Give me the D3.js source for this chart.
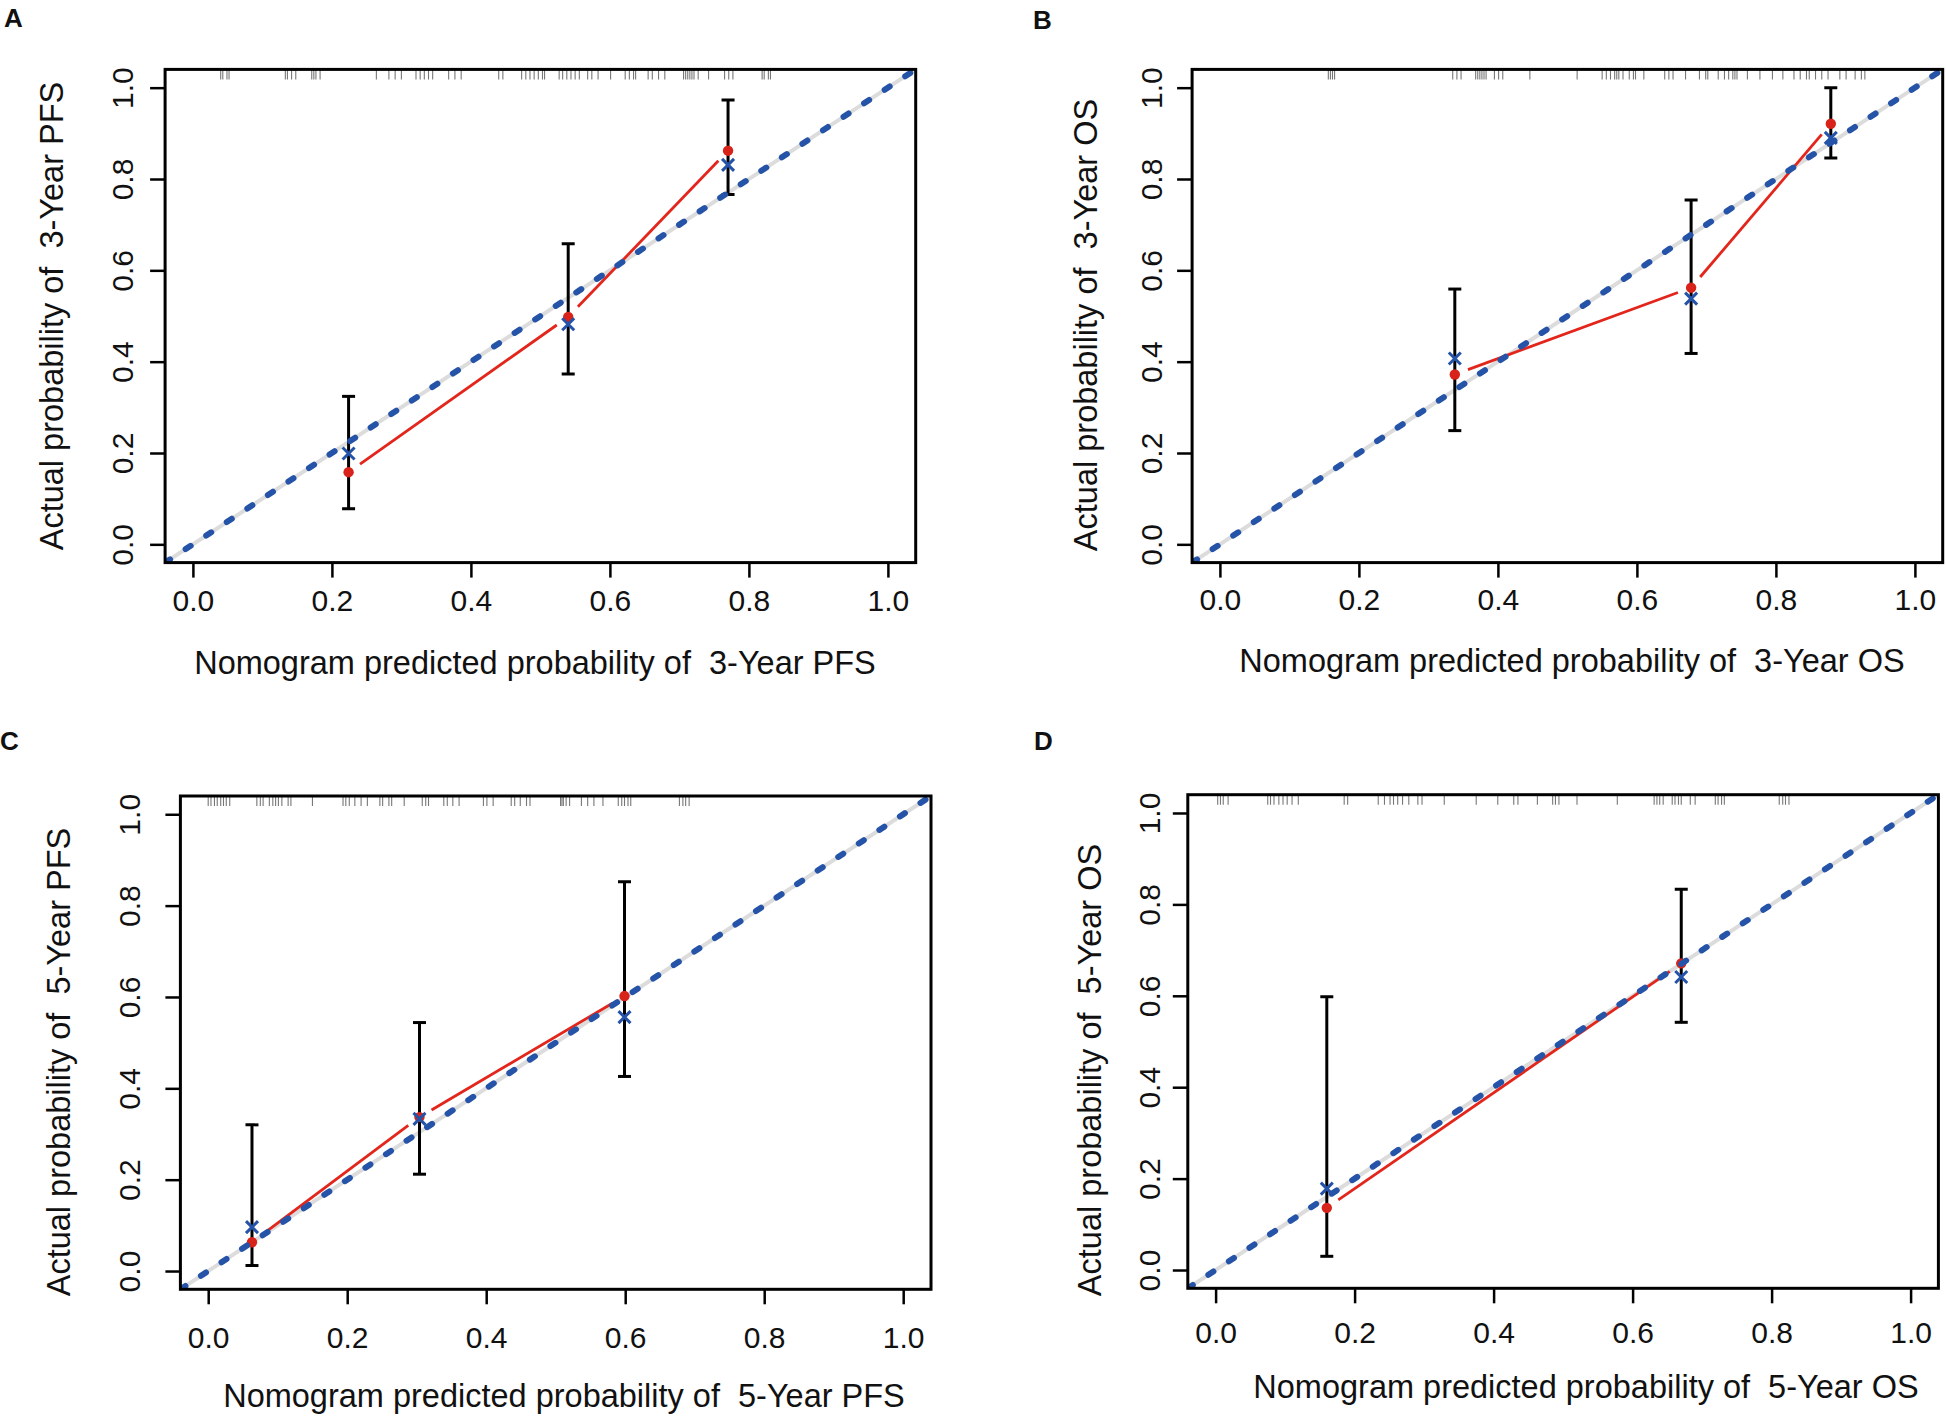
<!DOCTYPE html>
<html>
<head>
<meta charset="utf-8">
<script src="https://cdn.jsdelivr.net/npm/d3@7"></script>
<style>
  body { margin: 0; background: #fff; }
  svg text { font-family: Arial, "Liberation Sans", sans-serif; fill: #111; }
</style>
</head>
<body>
<svg id="chart" width="1946" height="1417"></svg>
<script>
// ---- data ----
const panelLetters = ["A", "B", "C", "D"];
const xTitles = ["Nomogram predicted probability of  3-Year PFS", "Nomogram predicted probability of  3-Year OS",
                 "Nomogram predicted probability of  5-Year PFS", "Nomogram predicted probability of  5-Year OS"];
const yTitles = ["Actual probability of  3-Year PFS", "Actual probability of  3-Year OS",
                 "Actual probability of  5-Year PFS", "Actual probability of  5-Year OS"];
const tickValues = [0, 0.2, 0.4, 0.6, 0.8, 1.0];

// A: 3-year PFS
const predA = [0.224, 0.540, 0.770];
const obsA  = [0.158, 0.498, 0.862];
const corrA = [0.199, 0.482, 0.831];
const lowA  = [0.078, 0.373, 0.766];
const highA = [0.324, 0.658, 0.973];
const rugA  = [0.040, 0.043, 0.049, 0.052, 0.133, 0.136, 0.142, 0.148, 0.171, 0.174, 0.177, 0.183,
               0.264, 0.282, 0.291, 0.300, 0.321, 0.327, 0.333, 0.339, 0.345, 0.368, 0.377, 0.386,
               0.440, 0.446, 0.473, 0.479, 0.485, 0.491, 0.497, 0.503, 0.506, 0.527, 0.532, 0.538,
               0.544, 0.550, 0.556, 0.568, 0.574, 0.583, 0.601, 0.622, 0.628, 0.634, 0.637, 0.655,
               0.661, 0.670, 0.679, 0.706, 0.709, 0.712, 0.715, 0.718, 0.721, 0.727, 0.742, 0.765,
               0.771, 0.777, 0.819, 0.822, 0.828, 0.831];

// B: 3-year OS
const predB = [0.338, 0.678, 0.879];
const obsB  = [0.372, 0.562, 0.921];
const corrB = [0.407, 0.538, 0.890];
const lowB  = [0.249, 0.418, 0.846];
const highB = [0.559, 0.754, 1.000];
const rugB  = [0.156, 0.159, 0.162, 0.165, 0.335, 0.341, 0.347, 0.368, 0.371, 0.374, 0.377, 0.380,
               0.383, 0.395, 0.401, 0.407, 0.446, 0.514, 0.550, 0.556, 0.562, 0.568, 0.571, 0.574,
               0.580, 0.589, 0.595, 0.598, 0.610, 0.640, 0.646, 0.652, 0.670, 0.690, 0.699, 0.702,
               0.717, 0.726, 0.732, 0.738, 0.741, 0.744, 0.759, 0.777, 0.795, 0.810, 0.826, 0.835,
               0.844, 0.848, 0.857, 0.866, 0.875, 0.892, 0.901, 0.914, 0.923, 0.928];

// C: 5-year PFS
const predC = [0.063, 0.304, 0.599];
const obsC  = [0.063, 0.337, 0.602];
const corrC = [0.096, 0.333, 0.556];
const lowC  = [0.012, 0.212, 0.426];
const highC = [0.320, 0.544, 0.852];
const rugC  = [0.000, 0.004, 0.009, 0.013, 0.018, 0.022, 0.026, 0.031, 0.070, 0.075, 0.079, 0.088,
               0.093, 0.097, 0.101, 0.106, 0.115, 0.119, 0.150, 0.194, 0.198, 0.203, 0.211, 0.220,
               0.229, 0.247, 0.251, 0.260, 0.264, 0.282, 0.308, 0.313, 0.317, 0.339, 0.344, 0.352,
               0.361, 0.396, 0.401, 0.410, 0.436, 0.441, 0.449, 0.458, 0.463, 0.507, 0.509, 0.511,
               0.515, 0.520, 0.537, 0.546, 0.555, 0.568, 0.590, 0.595, 0.599, 0.604, 0.608, 0.678,
               0.683, 0.687, 0.692];

// D: 5-year OS
const predD = [0.160, 0.670];
const obsD  = [0.136, 0.671];
const corrD = [0.178, 0.641];
const lowD  = [0.030, 0.542];
const highD = [0.598, 0.833];
const rugD  = [0.003, 0.007, 0.011, 0.018, 0.075, 0.079, 0.084, 0.091, 0.097, 0.103, 0.110, 0.119,
               0.185, 0.190, 0.234, 0.243, 0.251, 0.256, 0.262, 0.269, 0.278, 0.291, 0.297, 0.329,
               0.375, 0.406, 0.429, 0.435, 0.463, 0.485, 0.489, 0.494, 0.520, 0.578, 0.631, 0.635,
               0.639, 0.644, 0.657, 0.661, 0.666, 0.670, 0.683, 0.690, 0.719, 0.723, 0.728, 0.732,
               0.811, 0.816, 0.820, 0.825];

const panelData = [
  {pred: predA, obs: obsA, corr: corrA, low: lowA, high: highA, rug: rugA},
  {pred: predB, obs: obsB, corr: corrB, low: lowB, high: highB, rug: rugB},
  {pred: predC, obs: obsC, corr: corrC, low: lowC, high: highC, rug: rugC},
  {pred: predD, obs: obsD, corr: corrD, low: lowD, high: highD, rug: rugD}
];

// ---- layout of each sub figure (pixels) ----
const layout = [
  {x0: 165.1, x1: 915.7, y0: 69.4, y1: 562.6, letter: [4, 27], xLab: 611, yLab: 133, xTitle: [535, 674], yTitle: [63, 316]},
  {x0: 1192.1, x1: 1942.7, y0: 69.4, y1: 562.6, letter: [1033, 29], xLab: 610, yLab: 1162, xTitle: [1572, 672], yTitle: [1097, 325]},
  {x0: 180.4, x1: 931.0, y0: 796.0, y1: 1289.3, letter: [0, 750], xLab: 1348, yLab: 140, xTitle: [564, 1407], yTitle: [70, 1062]},
  {x0: 1187.8, x1: 1938.4, y0: 794.7, y1: 1288.3, letter: [1034, 750], xLab: 1343, yLab: 1160, xTitle: [1586, 1398], yTitle: [1101, 1070]}
];

const blue = "#2553a8", red = "#e3261c";
const svg = d3.select("#chart");
const fmt = d3.format(".1f");

panelData.forEach((d, i) => {
  const L = layout[i];
  const x = d3.scaleLinear().domain([-0.04, 1.04]).range([L.x0, L.x1]);
  const y = d3.scaleLinear().domain([-0.04, 1.04]).range([L.y1, L.y0]);
  const g = svg.append("g");

  // panel letter
  g.append("text").attr("x", L.letter[0]).attr("y", L.letter[1])
    .style("font-size", "26px").style("font-weight", "bold").text(panelLetters[i]);

  const clipId = "clip" + i;
  svg.append("clipPath").attr("id", clipId).append("rect")
    .attr("x", L.x0).attr("y", L.y0).attr("width", L.x1 - L.x0).attr("height", L.y1 - L.y0);
  const inner = g.append("g").attr("clip-path", `url(#${clipId})`);

  // ideal line (grey under blue dotted)
  inner.append("line")
    .attr("x1", x(-0.04)).attr("y1", y(-0.04)).attr("x2", x(1.04)).attr("y2", y(1.04))
    .attr("stroke", "#dcdcdc").attr("stroke-width", 4);

  // rug of predicted values along the top
  inner.selectAll("line.rug").data(d.rug).join("line").attr("class", "rug")
    .attr("x1", v => x(v)).attr("x2", v => x(v))
    .attr("y1", L.y0).attr("y2", L.y0 + 10)
    .attr("stroke", "#777").attr("stroke-width", 1.1);

  // error bars
  const idx = d3.range(d.pred.length);
  inner.selectAll("line.eb").data(idx).join("line").attr("class", "eb")
    .attr("x1", k => x(d.pred[k])).attr("x2", k => x(d.pred[k]))
    .attr("y1", k => y(d.low[k])).attr("y2", k => y(d.high[k]))
    .attr("stroke", "#000").attr("stroke-width", 3);
  ["low", "high"].forEach(key => {
    inner.selectAll("line.cap" + key).data(idx).join("line").attr("class", "cap" + key)
      .attr("x1", k => x(d.pred[k]) - 6.5).attr("x2", k => x(d.pred[k]) + 6.5)
      .attr("y1", k => y(d[key][k])).attr("y2", k => y(d[key][k]))
      .attr("stroke", "#000").attr("stroke-width", 3);
  });

  // observed line (type "b": gaps round the points)
  const gap = 14;
  for (let k = 0; k < d.pred.length - 1; k++) {
    const ax = x(d.pred[k]), ay = y(d.obs[k]), bx = x(d.pred[k + 1]), by = y(d.obs[k + 1]);
    const len = Math.hypot(bx - ax, by - ay), ux = (bx - ax) / len, uy = (by - ay) / len;
    inner.append("line")
      .attr("x1", ax + ux * gap).attr("y1", ay + uy * gap)
      .attr("x2", bx - ux * gap).attr("y2", by - uy * gap)
      .attr("stroke", red).attr("stroke-width", 2.8);
  }
  inner.selectAll("circle.obs").data(idx).join("circle").attr("class", "obs")
    .attr("cx", k => x(d.pred[k])).attr("cy", k => y(d.obs[k])).attr("r", 5.2)
    .attr("fill", "#d8231a");

  // bias-corrected estimates
  inner.selectAll("path.corr").data(idx).join("path").attr("class", "corr")
    .attr("d", k => {
      const cx = x(d.pred[k]), cy = y(d.corr[k]), s = 6;
      return `M${cx - s},${cy - s}L${cx + s},${cy + s}M${cx - s},${cy + s}L${cx + s},${cy - s}`;
    })
    .attr("stroke", blue).attr("stroke-width", 3).attr("fill", "none");

  // blue dotted reference
  inner.append("line")
    .attr("x1", x(-0.04)).attr("y1", y(-0.04)).attr("x2", x(1.04)).attr("y2", y(1.04))
    .attr("stroke", blue).attr("stroke-width", 6)
    .attr("stroke-linecap", "round").attr("stroke-dasharray", "6 18.6");

  // axes
  const xAxis = g.append("g").attr("transform", `translate(0,${L.y1})`)
    .call(d3.axisBottom(x).tickValues(tickValues).tickSize(15).tickFormat(fmt));
  xAxis.select(".domain").remove();
  xAxis.selectAll("line").attr("stroke", "#000").attr("stroke-width", 2.5);
  xAxis.selectAll("text").attr("y", L.xLab - L.y1).attr("dy", null)
    .style("font-size", "30px").attr("fill", "#111");

  const yAxis = g.append("g").attr("transform", `translate(${L.x0},0)`)
    .call(d3.axisLeft(y).tickValues(tickValues).tickSize(15).tickFormat(fmt));
  yAxis.select(".domain").remove();
  yAxis.selectAll("line").attr("stroke", "#000").attr("stroke-width", 2.5);
  yAxis.selectAll("text").attr("x", 0).attr("dy", null).attr("text-anchor", "middle")
    .attr("transform", `translate(${L.yLab - L.x0},0) rotate(-90)`)
    .style("font-size", "30px").attr("fill", "#111");

  // frame
  g.append("rect").attr("x", L.x0).attr("y", L.y0)
    .attr("width", L.x1 - L.x0).attr("height", L.y1 - L.y0)
    .attr("fill", "none").attr("stroke", "#000").attr("stroke-width", 3);

  // titles
  g.append("text").attr("x", L.xTitle[0]).attr("y", L.xTitle[1])
    .attr("text-anchor", "middle").style("font-size", "32.5px").style("white-space", "pre")
    .text(xTitles[i]);
  g.append("text").attr("transform", `translate(${L.yTitle[0]},${L.yTitle[1]}) rotate(-90)`)
    .attr("text-anchor", "middle").style("font-size", "32.5px").style("white-space", "pre")
    .text(yTitles[i]);
});
</script>
</body>
</html>
